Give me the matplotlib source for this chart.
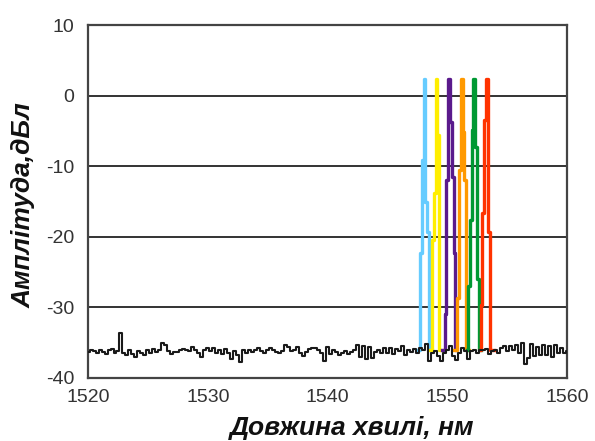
import numpy as np
import matplotlib.pyplot as plt

# axis settings
x_min, x_max = 1520, 1560
y_min, y_max = -40, 10
x_ticks = [1520, 1530, 1540, 1550, 1560]
y_ticks = [-40, -30, -20, -10, 0, 10]

# noise floor, sampled every 0.25 nm from 1520 to 1560
noise_db = [
    -36.3, -36.0, -36.2, -36.5, -36.1, -36.3, -36.6, -36.0, -35.9, -36.4,
    -36.2, -33.6, -36.5, -36.8, -36.1, -36.6, -37.0, -36.2, -36.4, -36.7,
    -36.0, -36.5, -35.9, -36.3, -36.1, -35.0, -35.4, -36.2, -36.6, -36.3,
    -36.3, -36.1, -35.9, -36.0, -36.2, -35.6, -36.0, -36.4, -37.0, -36.1,
    -35.8, -36.2, -35.7, -36.4, -36.0, -36.6, -35.9, -36.5, -37.3, -36.2,
    -36.8, -37.8, -36.0, -36.4, -36.1, -36.3, -36.0, -35.8, -36.2, -36.4,
    -36.1, -35.7, -36.0, -36.3, -36.5, -36.2, -35.4, -35.6, -36.2, -36.0,
    -35.6, -36.4, -36.9, -36.3, -35.9, -35.8, -35.8, -36.0, -36.5, -37.6,
    -35.6, -36.6, -36.1, -36.3, -36.8, -36.4, -36.2, -36.6, -36.3, -36.1,
    -35.3, -37.0, -35.5, -37.3, -35.6, -37.2, -36.3, -36.0, -36.5, -35.7,
    -36.4, -35.8, -36.6, -35.9, -36.2, -35.5, -36.8, -36.0, -36.3, -35.9,
    -36.4, -35.8, -36.0, -35.2, -37.6, -36.5, -36.2, -36.9, -37.6, -36.4,
    -36.1, -35.5, -36.9, -37.5, -36.4, -35.8, -36.2, -37.3, -36.2, -36.0,
    -36.4, -36.0, -36.1, -35.9, -36.6, -36.2, -36.0, -36.4, -35.7, -35.5,
    -36.2, -35.5, -36.0, -35.4, -36.5, -35.1, -38.0, -37.2, -35.2, -36.9,
    -35.6, -36.8, -35.3, -36.7, -35.5, -37.0, -35.3, -36.4, -35.8, -36.5,
    -36.2,
]
noise_nm = np.linspace(1520, 1560, len(noise_db))

# six WDM channels
ch_centers = [1548.1, 1549.1, 1550.15, 1551.2, 1552.25, 1553.3]
ch_colors = ['#66ccff', '#ffee00', '#5a1a8c', '#ff9900', '#009933', '#ff3300']
ch_offsets = [-0.6, -0.45, -0.3, -0.15, 0.0, 0.15, 0.3, 0.45, 0.6]
ch_blue = [-36, -36, -22.3, -9.1, 2.4, -15.0, -19.3, -36, -36]
ch_yellow = [-36, -36, -20.5, -13.8, 2.4, -5.6, -36, -36, -36]
ch_purple = [-36, -36, -31.0, -12.0, 2.4, -3.7, -11.5, -22.3, -36]
ch_orange = [-36, -36, -28.7, -10.5, 2.4, -5.2, -12.0, -36, -36]
ch_green = [-36, -27.0, -17.6, -4.9, 2.4, -7.3, -26.0, -36, -36]
ch_red = [-36, -29.7, -16.6, -3.5, 2.4, -19.3, -36, -36, -36]
ch_levels = [ch_blue, ch_yellow, ch_purple, ch_orange, ch_green, ch_red]

plt.rcParams['font.family'] = ['Liberation Sans', 'DejaVu Sans']
plt.rcParams['axes.unicode_minus'] = False

fig = plt.figure(figsize=(5.95, 4.41), dpi=100)
ax = fig.add_axes([0.148, 0.143, 0.805, 0.800])

for yv in y_ticks[1:-1]:
    ax.axhline(yv, color='#333333', lw=1.4, zorder=1)

for c, col, lev in zip(ch_centers, ch_colors, ch_levels):
    xs = [c + o for o in ch_offsets]
    ax.plot(xs, lev, color=col, lw=2.4, drawstyle='steps-mid', zorder=2)

ax.plot(noise_nm, noise_db, color='#1a1a1a', lw=1.5, drawstyle='steps-mid', zorder=3)

ax.set_xlim(x_min, x_max)
ax.set_ylim(y_min, y_max)
ax.set_xticks(x_ticks)
ax.set_yticks(y_ticks)
ax.tick_params(length=0, labelsize=14, colors='#333333')
ax.tick_params(axis='x', pad=8)
ax.tick_params(axis='y', pad=10)
for s in ax.spines.values():
    s.set_color('#444444')
    s.set_linewidth(1.6)

fig.text(0.592, 0.030, 'Довжина хвилі, нм', fontsize=19,
         fontweight='bold', fontstyle='italic', ha='center', va='center', color='#111111')
fig.text(0.040, 0.535, 'Амплітуда,дБл', fontsize=19, fontweight='bold',
         fontstyle='italic', ha='center', va='center', rotation=90, color='#111111')

fig.savefig('out.png', dpi=100)
